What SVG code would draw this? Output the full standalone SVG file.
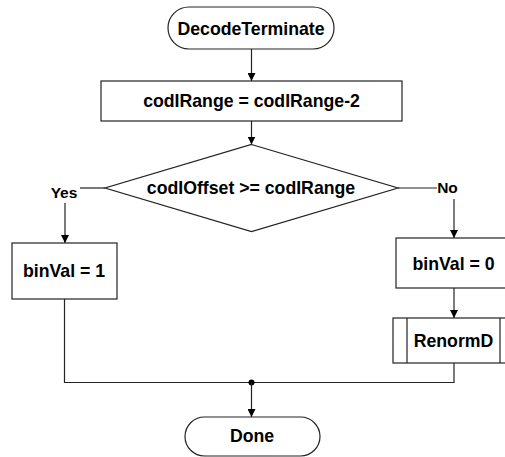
<svg xmlns="http://www.w3.org/2000/svg" width="505" height="457" viewBox="0 0 505 457">
<defs>
<marker id="arr" viewBox="0 0 10 10" refX="10" refY="5" markerWidth="8" markerHeight="8" markerUnits="userSpaceOnUse" orient="auto">
<path d="M0,0 L10,5 L0,10 z" fill="#000"/>
</marker>
<style>
.shape{fill:#fff;stroke:#222;stroke-width:1.2}
.ln{fill:none;stroke:#222;stroke-width:1.2}
.t{font-family:"Liberation Sans",Arial,sans-serif;font-weight:bold;font-size:17.7px;fill:#000;text-anchor:middle}
.s{font-family:"Liberation Sans",Arial,sans-serif;font-weight:bold;font-size:15.5px;fill:#000;text-anchor:middle}
</style>
</defs>
<rect width="505" height="457" fill="#fff"/>
<g id="connectors">
<line class="ln" x1="251.5" y1="49" x2="251.5" y2="81" marker-end="url(#arr)"/>
<line class="ln" x1="251.5" y1="121" x2="251.5" y2="144.5" marker-end="url(#arr)"/>
<line class="ln" x1="105" y1="188" x2="80" y2="188"/>
<line class="ln" x1="65" y1="203" x2="65" y2="243" marker-end="url(#arr)"/>
<line class="ln" x1="398" y1="188" x2="437" y2="188"/>
<line class="ln" x1="454" y1="199" x2="454" y2="238" marker-end="url(#arr)"/>
<line class="ln" x1="454" y1="288" x2="454" y2="318" marker-end="url(#arr)"/>
<polyline class="ln" points="64.5,299 64.5,382.5 454,382.5 454,363"/>
<circle cx="251.5" cy="382.5" r="3" fill="#000"/>
<line class="ln" x1="251.5" y1="382.5" x2="251.5" y2="417" marker-end="url(#arr)"/>
<text class="s" x="64" y="198">Yes</text>
<text class="s" x="447.5" y="193">No</text>
</g>
<g id="start">
<rect class="shape" x="168" y="7" width="166" height="42" rx="21"/>
<text class="t" x="251" y="34.5">DecodeTerminate</text>
</g>
<g id="range">
<rect class="shape" x="101" y="81" width="301" height="40"/>
<text class="t" x="251.5" y="106.5">codIRange = codIRange-2</text>
</g>
<g id="decision">
<polygon class="shape" points="251.5,144.5 398,188 251.5,231.5 105,188"/>
<text class="t" x="251" y="194">codIOffset &gt;= codIRange</text>
</g>
<g id="bin1">
<rect class="shape" x="12" y="243" width="105" height="56"/>
<text class="t" x="64" y="276.5">binVal = 1</text>
</g>
<g id="bin0">
<rect class="shape" x="396" y="238" width="116" height="50"/>
<text class="t" x="453.5" y="269.5">binVal = 0</text>
</g>
<g id="renorm">
<rect class="shape" x="393" y="318" width="121" height="45"/>
<line class="ln" x1="407" y1="318" x2="407" y2="363"/>
<line class="ln" x1="500" y1="318" x2="500" y2="363"/>
<text class="t" x="453.5" y="347">RenormD</text>
</g>
<g id="done">
<rect class="shape" x="185" y="417" width="135" height="39" rx="19.5"/>
<text class="t" x="252" y="442">Done</text>
</g>
</svg>
